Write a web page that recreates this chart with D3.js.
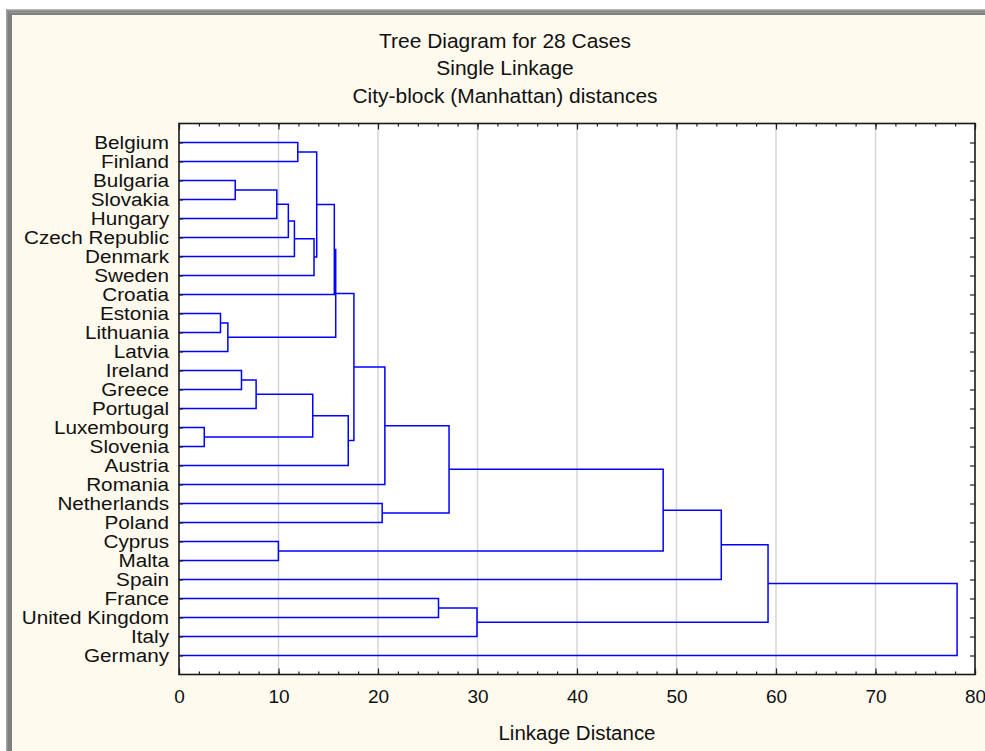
<!DOCTYPE html>
<html>
<head>
<meta charset="utf-8">
<script src="https://cdn.jsdelivr.net/npm/d3@7"></script>
<style>
  html, body { margin: 0; padding: 0; background: #ffffff; }
  svg { display: block; }
  text { font-family: "Liberation Sans", Arial, sans-serif; fill: #111; }
</style>
</head>
<body>
<svg id="chart" width="985" height="751"></svg>
<script>
// ---- Data ----
const titleLines = ["Tree Diagram for 28 Cases", "Single Linkage", "City-block (Manhattan) distances"];
const xAxisTitle = "Linkage Distance";
const xTicks = [0, 10, 20, 30, 40, 50, 60, 70, 80];
const xMinorTicks = d3.range(0, 81, 2);

// Leaves in the order drawn (top to bottom)
const leaves = ["Belgium", "Finland", "Bulgaria", "Slovakia", "Hungary", "Czech Republic", "Denmark",
  "Sweden", "Croatia", "Estonia", "Lithuania", "Latvia", "Ireland", "Greece", "Portugal",
  "Luxembourg", "Slovenia", "Austria", "Romania", "Netherlands", "Poland", "Cyprus", "Malta",
  "Spain", "France", "United Kingdom", "Italy", "Germany"];

// Merge steps: cluster ids 0..27 are leaves, merge k creates cluster 28+k
const mergeLeft   = [15,  9, 29,  2, 12, 32,  31, 21,  34, 36,  0,  33,  37,  38,  41,  42,  39,  43,  19,  45,  24,  47,  48,  49,  51,  52,  53];
const mergeRight  = [16, 10, 11,  3, 13, 14,   4, 22,   5,  6,  1,  28,   7,  40,   8,  30,  17,  44,  20,  18,  25,  46,  26,  35,  23,  50,  27];
const mergeHeight = [2.54, 4.17, 4.91, 5.65, 6.28, 7.75, 9.83, 9.99, 10.99, 11.6, 11.94, 13.44, 13.57, 13.84,
  15.61, 15.75, 17.01, 17.58, 20.42, 20.69, 26.08, 27.14, 29.95, 48.66, 54.5, 59.2, 78.2];

// ---- Layout ----
const W = 985, H = 751;
const plot = { left: 179, right: 975, top: 123.5, bottom: 674.5 };
const svg = d3.select("#chart");

// horizontal stretch helper (about an anchor point)
function stretch(sel, s, ax, ay) {
  sel.attr("transform", `translate(${ax},${ay}) scale(${s},1) translate(${-ax},${-ay})`);
}

// Frame / background
svg.append("rect").attr("x", 0).attr("y", 0).attr("width", W).attr("height", H).attr("fill", "#ffffff");
svg.append("rect").attr("x", 6).attr("y", 9).attr("width", W - 6).attr("height", H - 9).attr("fill", "#808080");
svg.append("rect").attr("x", 6).attr("y", 9).attr("width", W - 6).attr("height", 1.5).attr("fill", "#b8b8b8");
svg.append("rect").attr("x", 6).attr("y", 9).attr("width", 1.5).attr("height", H - 9).attr("fill", "#a0a0a0");
svg.append("rect").attr("x", 9).attr("y", 12).attr("width", W - 9).attr("height", 1).attr("fill", "#9a9a9a");
svg.append("rect").attr("x", 12).attr("y", 15).attr("width", W - 12).attr("height", H - 15).attr("fill", "#fffaee");

// Title
const title = svg.append("g");
titleLines.forEach((t, i) => {
  const ty = 48 + i * 27.5;
  title.append("text")
    .attr("x", 505).attr("y", ty)
    .attr("text-anchor", "middle")
    .attr("font-size", "19.5px")
    .text(t)
    .call(stretch, 1.075, 505, ty);
});

// Scales
const x = d3.scaleLinear().domain([0, 80]).range([plot.left, plot.right]);
const y = d3.scalePoint().domain(leaves).range([plot.top, plot.bottom]).padding(1);

// Plot background
svg.append("rect")
  .attr("x", plot.left).attr("y", plot.top)
  .attr("width", plot.right - plot.left).attr("height", plot.bottom - plot.top)
  .attr("fill", "#ffffff");

// Grid lines
svg.append("g").selectAll("line")
  .data(xTicks.filter(d => d > 0 && d < 80))
  .join("line")
  .attr("x1", d => x(d)).attr("x2", d => x(d))
  .attr("y1", plot.top).attr("y2", plot.bottom)
  .attr("stroke", "#d6d6d6").attr("stroke-width", 1.5);

// Dendrogram
const nodeX = [], nodeY = [];
leaves.forEach((name, i) => { nodeX[i] = 0; nodeY[i] = y(name); });
const links = [];
mergeHeight.forEach((h, k) => {
  const a = mergeLeft[k], b = mergeRight[k], id = leaves.length + k;
  nodeX[id] = h;
  nodeY[id] = (nodeY[a] + nodeY[b]) / 2;
  links.push({ a, b, h });
});
svg.append("g").selectAll("path")
  .data(links)
  .join("path")
  .attr("d", l => `M${x(nodeX[l.a])},${nodeY[l.a]}H${x(l.h)}V${nodeY[l.b]}H${x(nodeX[l.b])}`)
  .attr("fill", "none")
  .attr("stroke", "#0000ff")
  .attr("stroke-width", 1.5);

// Axes
const axisFont = "19px";
// bottom major
const gB = svg.append("g").attr("transform", `translate(0,${plot.bottom})`)
  .call(d3.axisBottom(x).tickValues(xTicks).tickSize(-6).tickPadding(15).tickFormat(d3.format("d")));
gB.selectAll("text").attr("font-size", axisFont).attr("font-family", "Liberation Sans, Arial, sans-serif").attr("fill", "#111");
// bottom minor
svg.append("g").attr("transform", `translate(0,${plot.bottom})`)
  .call(d3.axisBottom(x).tickValues(xMinorTicks).tickSize(-3).tickFormat(""));
// top major & minor
svg.append("g").attr("transform", `translate(0,${plot.top})`)
  .call(d3.axisTop(x).tickValues(xTicks).tickSize(-6).tickFormat(""));
svg.append("g").attr("transform", `translate(0,${plot.top})`)
  .call(d3.axisTop(x).tickValues(xMinorTicks).tickSize(-3).tickFormat(""));
// left with labels
const gL = svg.append("g").attr("transform", `translate(${plot.left},0)`)
  .call(d3.axisLeft(y).tickSize(-4).tickPadding(10));
gL.selectAll("text")
  .attr("font-size", axisFont).attr("font-family", "Liberation Sans, Arial, sans-serif").attr("fill", "#111")
  .call(stretch, 1.09, -10, 0);
// right ticks
svg.append("g").attr("transform", `translate(${plot.right},0)`)
  .call(d3.axisRight(y).tickSize(-5).tickFormat(""));

svg.selectAll(".domain").remove();
svg.selectAll(".tick line").attr("stroke", "#222").attr("stroke-width", 1.2);

// Plot border
svg.append("rect")
  .attr("x", plot.left).attr("y", plot.top)
  .attr("width", plot.right - plot.left).attr("height", plot.bottom - plot.top)
  .attr("fill", "none").attr("stroke", "#1a1a1a").attr("stroke-width", 1.6);

// Axis title
const atx = (plot.left + plot.right) / 2;
svg.append("text")
  .attr("x", atx).attr("y", 740)
  .attr("text-anchor", "middle")
  .attr("font-size", "19.5px")
  .text(xAxisTitle)
  .call(stretch, 1.05, atx, 740);
</script>
</body>
</html>
